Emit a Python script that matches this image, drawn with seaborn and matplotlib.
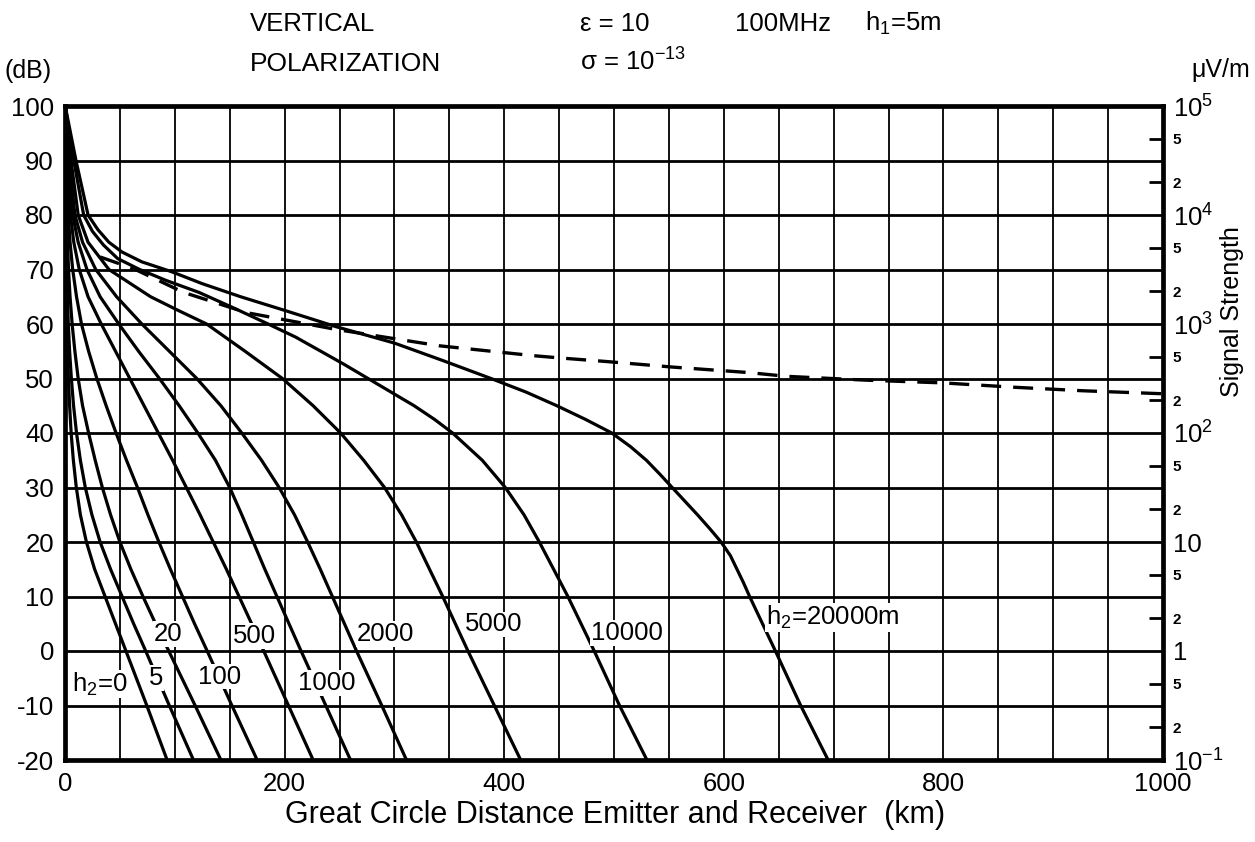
import numpy as np
import pandas as pd
import matplotlib
matplotlib.use("Agg")
import matplotlib.pyplot as plt
import seaborn as sns
from matplotlib.ticker import FixedLocator, FixedFormatter, MultipleLocator

# ---------------------------------------------------------------------------
# Field strength (dB above 1 uV/m) versus great-circle distance (km)
# for receiving antenna heights h2; each curve is given as distance/level pairs
# ---------------------------------------------------------------------------
heights = ["0", "5", "20", "100", "500", "1000", "2000", "5000", "10000", "20000"]

levels_std = [100, 90, 80, 75, 70, 65, 60, 55, 50, 45, 40, 35, 30, 25, 20, 15, 10, 5, 0, -10, -20]

km_h0 = [0.2, 0.4, 0.6, 0.8, 1.0, 1.3, 1.7, 2.3, 3.1, 4.2, 5.6, 7.6, 10.3, 14, 19.5, 27, 36.5, 46, 55.5, 74.5, 93]
km_h5 = [0.2, 0.5, 0.9, 1.2, 1.6, 2.2, 3.0, 4.2, 5.8, 7.8, 10.5, 14, 18.5, 24.5, 32, 41.5, 52, 62.5, 73.5, 95, 117]
km_h20 = [0.2, 0.8, 1.6, 2.3, 3.2, 4.6, 6.5, 9, 12, 16, 21.5, 27.5, 34, 41.5, 50, 60, 71, 82.5, 94.5, 118.5, 142]
km_h100 = [0.2, 1.3, 3, 4.6, 7, 10.5, 15, 21.5, 29, 37.5, 46.5, 56, 66, 75.5, 85.5, 96, 107, 118, 129.5, 152, 175]
km_h500 = [0.2, 2.2, 5, 8, 13, 21, 33, 46, 59, 72, 85, 98, 110.5, 123, 135, 147, 158.5, 170, 181, 203.5, 226]
km_h1000 = [0.2, 3, 7, 12, 20, 32, 49, 67, 86, 104, 121, 137, 150, 161, 171.5, 182, 193, 204, 215, 237.5, 260]
km_h2000 = [0.2, 4, 9, 16, 28, 47, 70, 95, 120, 142, 161, 179, 195, 209, 221, 232.5, 243.5, 254.5, 265.5, 288.5, 311]

km_h5000 = [0.2, 5.5, 12, 21, 40, 78, 103, 129, 164, 198, 226, 251, 272, 291, 306.5, 320, 332, 344, 355.5, 367, 391, 415]
db_h5000 = [100, 90, 80, 75, 70, 65, 62.5, 60, 55, 50, 45, 40, 35, 30, 25, 20, 15, 10, 5, 0, -10, -20]

km_h10000 = [0.2, 8, 17, 25, 35, 48, 68, 92, 122, 153, 185, 210, 233, 255, 276, 297, 318, 336.5, 353, 380, 401, 418, 432, 458, 482, 505, 530]
db_h10000 = [100, 90, 80, 77, 74.5, 72, 70, 68, 65.8, 63, 60, 57.6, 55, 52.5, 50, 47.5, 45, 42.5, 40, 35, 30, 25, 20, 10, 0, -10, -20]

km_h20000 = [0.2, 10, 21, 30, 40, 52, 70, 97, 125, 160, 200, 247, 300, 344, 388, 420, 448, 474, 498, 515, 529.5,
             541.5, 553, 564.5, 576, 587, 597.5, 606, 612, 618, 623.5, 647, 670, 695]
db_h20000 = [100, 90, 80, 77.3, 75, 73.2, 71.4, 69.6, 67.4, 65, 62.5, 59.5, 56.5, 53.3, 50, 47.5, 45, 42.5, 40, 37.5, 35,
             32.5, 30, 27.5, 25, 22.5, 20, 17.5, 15, 12.5, 10, 0, -10, -20]

# broken reference line
km_ref = [32, 63, 108, 165, 247, 341, 426, 452, 494, 553, 622, 657, 729, 799, 864, 927, 1000]
db_ref = [72.3, 70.1, 65.8, 62.1, 59, 56, 54.2, 53.75, 53.1, 52.1, 51.1, 50.4, 49.7, 49.2, 48.4, 47.75, 47.2]

# right-hand scale (uV/m)
strength_major = [1e5, 1e4, 1e3, 1e2, 1e1, 1e0, 1e-1]
strength_major_labels = [r"10$^5$", r"10$^4$", r"10$^3$", r"10$^2$", "10", "1", r"10$^{-1}$"]
strength_minor = [5e4, 2e4, 5e3, 2e3, 5e2, 2e2, 5e1, 2e1, 5e0, 2e0, 5e-1, 2e-1]
strength_minor_labels = ["5", "2"] * 6

x_ticks = [0, 200, 400, 600, 800, 1000]
y_ticks = [100, 90, 80, 70, 60, 50, 40, 30, 20, 10, 0, -10, -20]

curve_km = [km_h0, km_h5, km_h20, km_h100, km_h500, km_h1000, km_h2000,
            km_h5000, km_h10000, km_h20000]
curve_db = [levels_std] * 7 + [db_h5000, db_h10000, db_h20000]

frames = [pd.DataFrame({"km": k, "dB": d, "h2": h})
          for h, k, d in zip(heights, curve_km, curve_db)]
df = pd.concat(frames, ignore_index=True)

# ---------------------------------------------------------------------------
sns.set_theme(style="white")
plt.rcParams["font.family"] = ["Liberation Sans", "DejaVu Sans"]
plt.rcParams["mathtext.fontset"] = "custom"
plt.rcParams["mathtext.rm"] = "Liberation Sans"
plt.rcParams["mathtext.it"] = "Liberation Sans:italic"
plt.rcParams["mathtext.bf"] = "Liberation Sans:bold"
plt.rcParams["mathtext.sf"] = "Liberation Sans"

W, H = 1255, 842
fig = plt.figure(figsize=(W / 100, H / 100), dpi=100)
ax = fig.add_axes([65 / W, (H - 760) / H, 1098 / W, 654 / H])

sns.lineplot(data=df, x="km", y="dB", hue="h2", hue_order=heights,
             palette={h: "black" for h in heights}, sort=False,
             estimator=None, legend=False, linewidth=2.3, ax=ax, zorder=3)
sns.lineplot(x=km_ref, y=db_ref, color="black", linewidth=2.4, sort=False,
             estimator=None, linestyle=(0, (6, 3.6)), ax=ax, zorder=3)

ax.set_xlim(0, 1000)
ax.set_ylim(-20, 100)
ax.xaxis.set_major_locator(FixedLocator(x_ticks))
ax.xaxis.set_minor_locator(MultipleLocator(50))
ax.yaxis.set_major_locator(FixedLocator(y_ticks))
ax.set_xticklabels([str(v) for v in x_ticks])
ax.set_yticklabels([str(v) for v in y_ticks])
ax.tick_params(axis="x", which="both", length=0, labelsize=18.5, pad=8.5, colors="black")
ax.tick_params(axis="y", which="both", length=0, labelsize=18.5, pad=8, colors="black")

ax.xaxis.grid(True, which="both", color="black", linewidth=1.3)
ax.yaxis.grid(True, which="major", color="black", linewidth=2.0)
ax.set_axisbelow(True)
for s in ax.spines.values():
    s.set_color("black")
    s.set_linewidth(3.4)
    s.set_visible(True)

ax.set_xlabel("Great Circle Distance Emitter and Receiver  (km)", fontsize=22, color="black")
ax.xaxis.set_label_coords((615 - 65) / 1098, (760 - 815) / 654)
ax.xaxis.label.set_va("center")
ax.set_ylabel("")

# right-hand field-strength scale
ax2 = ax.twinx()
ax2.set_yscale("log")
ax2.set_ylim(1e-1, 1e5)
ax2.yaxis.set_major_locator(FixedLocator(strength_major))
ax2.yaxis.set_major_formatter(FixedFormatter(strength_major_labels))
ax2.yaxis.set_minor_locator(FixedLocator(strength_minor))
ax2.yaxis.set_minor_formatter(FixedFormatter(strength_minor_labels))
ax2.tick_params(axis="y", which="major", length=0, labelsize=18.5, pad=7, colors="black")
ax2.tick_params(axis="y", which="minor", direction="in", length=10, width=2,
                labelsize=11, pad=7, colors="black")
for lbl in ax2.get_yticklabels(minor=True):
    lbl.set_fontweight("bold")
for s in ax2.spines.values():
    s.set_visible(False)
ax2.grid(False)
ax2.set_ylabel("Signal Strength", fontsize=18, color="black")
ax2.yaxis.set_label_coords((1232 - 65) / 1098, (760 - 312) / 654)
ax2.yaxis.label.set_va("center")

# curve labels (label text, x, y, horizontal alignment, vertical alignment)
curve_labels = [
    (r"h$_2$=0", 6.7, -7.4, "left", "baseline"),
    ("5", 82.7, -5.0, "center", "center"),
    ("20", 94, 3.1, "center", "center"),
    ("100", 141, -4.7, "center", "center"),
    ("500", 173, 2.8, "center", "center"),
    ("1000", 238, -5.9, "center", "center"),
    ("2000", 292, 3.1, "center", "center"),
    ("5000", 390, 4.9, "center", "center"),
    ("10000", 512, 3.3, "center", "center"),
    (r"h$_2$=20000m", 638, 4.8, "left", "baseline"),
]
for txt, x, y, ha, va in curve_labels:
    ax.text(x, y, txt, ha=ha, va=va, fontsize=18.5, color="black", zorder=6,
            bbox=dict(facecolor="white", edgecolor="none", pad=0.5))

# header
hdr = dict(fontsize=18.5, color="black", va="baseline", ha="left")
fig.text(250 / W, 1 - 31 / H, "VERTICAL", **hdr)
fig.text(250 / W, 1 - 71 / H, "POLARIZATION", fontsize=19, color="black", va="baseline", ha="left")
fig.text(580 / W, 1 - 31 / H, "ε = 10", **hdr)
fig.text(580 / W, 1 - 71 / H, r"σ = 10$^{-13}$", **hdr)
fig.text(735 / W, 1 - 31 / H, "100MHz", **hdr)
fig.text(865 / W, 1 - 31 / H, r"h$_1$=5m", **hdr)
fig.text(5 / W, 1 - 78 / H, "(dB)", fontsize=18, color="black", va="baseline", ha="left")
fig.text(1250 / W, 1 - 77 / H, "μV/m", fontsize=18, color="black", va="baseline", ha="right")

fig.savefig("out.png", dpi=100, facecolor="white")
